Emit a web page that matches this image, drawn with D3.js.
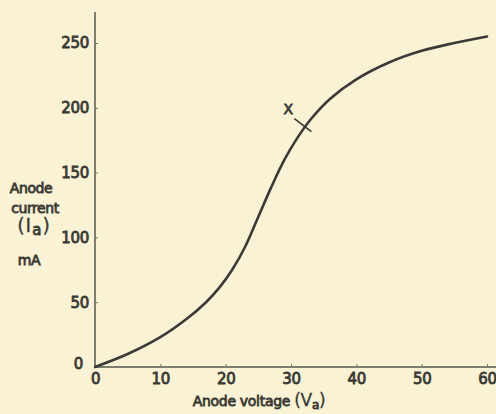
<!DOCTYPE html>
<html><head><meta charset="utf-8">
<script src="https://cdn.jsdelivr.net/npm/d3@7"></script>
<style>
html,body{margin:0;padding:0;background:#f9f2d4;}
svg{display:block;}
text{font-family:"DejaVu Sans",sans-serif;font-weight:400;fill:#3a3a34;stroke:#3a3a34;stroke-width:0.8px;}
</style></head>
<body>
<svg id="c" width="496" height="414"></svg>
<script>
const voltage = [0, 5, 10, 14, 17, 19, 21, 23, 25, 27, 29, 31, 33, 36, 40, 45, 50, 55, 60];
const current = [0, 10, 23, 37, 50, 61, 75, 93, 116, 139, 160, 177, 191, 207, 222, 235, 244, 250, 255];
const xTicks = [0, 10, 20, 30, 40, 50, 60];
const yTicks = [0, 50, 100, 150, 200, 250];
const markerV = 32.2;
const markerLabel = "X";

const svg = d3.select("#c");
const x = d3.scaleLinear().domain([0, 60]).range([95, 487]);
const y = d3.scaleLinear().domain([0, 250]).range([367, 43]);
const ink = "#3a3a34";
const font = "'DejaVu Sans', sans-serif";

// axes lines
svg.append("line").attr("x1", 95).attr("x2", 496).attr("y1", y(0)).attr("y2", y(0))
  .attr("stroke", "#55564e").attr("stroke-width", 1.5);
svg.append("line").attr("x1", 95).attr("x2", 95).attr("y1", 12).attr("y2", y(0))
  .attr("stroke", "#55564e").attr("stroke-width", 1.5);

// x ticks
const xa = d3.axisBottom(x).tickValues(xTicks).tickSizeInner(-3).tickSizeOuter(0).tickPadding(6)
  .tickFormat(d3.format("d"));
const gx = svg.append("g").attr("transform", `translate(0,${y(0)})`).call(xa);
gx.select(".domain").remove();
gx.selectAll("line").attr("stroke", "#77786e");
gx.selectAll("text").attr("font-size", 15).attr("fill", ink)
  .attr("font-family", font).attr("letter-spacing", "-0.3")
  .attr("dy", "0.72em");

// y ticks
const ya = d3.axisLeft(y).tickValues(yTicks).tickSizeInner(-3).tickSizeOuter(0).tickPadding(6)
  .tickFormat(d3.format("d"));
const gy = svg.append("g").attr("transform", "translate(95,0)").call(ya);
gy.select(".domain").remove();
gy.selectAll("line").attr("stroke", "#77786e");
gy.selectAll("text").attr("font-size", 15).attr("fill", ink)
  .attr("font-family", font).attr("letter-spacing", "-0.3");
gy.selectAll(".tick").filter(d => d === 0).select("text").attr("dy", "0.1em").attr("x", -12);

// curve
const pts = voltage.map((v, i) => [v, current[i]]);
const line = d3.line().x(d => x(d[0])).y(d => y(d[1])).curve(d3.curveCatmullRom.alpha(0.5));
svg.append("path").attr("d", line(pts)).attr("fill", "none")
  .attr("stroke", "#3a3a38").attr("stroke-width", 2.6).attr("stroke-linecap", "round");

// marker X
const bis = d3.bisector(d => d[0]).left;
const k = bis(pts, markerV);
const p0 = pts[k - 1], p1 = pts[k];
const t = (markerV - p0[0]) / (p1[0] - p0[0]);
const mI = p0[1] + (p1[1] - p0[1]) * t;
const mx = x(markerV), my = y(mI);
svg.append("line").attr("x1", mx - 11).attr("y1", my - 8).attr("x2", mx + 6).attr("y2", my + 5)
  .attr("stroke", ink).attr("stroke-width", 1.6);
svg.append("text").attr("x", mx - 17).attr("y", my - 13).attr("text-anchor", "middle")
  .attr("font-size", 14).text(markerLabel);

// y axis label
const yl = svg.append("g").attr("font-size", 14).attr("letter-spacing", "-0.4");
yl.append("text").attr("x", 31).attr("y", 193).attr("text-anchor", "middle").text("Anode");
yl.append("text").attr("x", 35).attr("y", 213).attr("text-anchor", "middle").text("current");
const ia = yl.append("text").attr("x", 34).attr("y", 232).attr("text-anchor", "middle")
  .attr("font-size", 19).attr("letter-spacing", "1").style("stroke-width", "0.3px");
ia.append("tspan").text("(I");
ia.append("tspan").attr("font-size", 15).style("stroke-width", "0.8px").attr("dy", 3).text("a");
ia.append("tspan").attr("dy", -3).text(")");
yl.append("text").attr("x", 29).attr("y", 265).attr("text-anchor", "middle").text("mA");

// x axis label
const xl = svg.append("text").attr("x", 259).attr("y", 406).attr("text-anchor", "middle")
  .attr("font-size", 14).attr("letter-spacing", "-0.3");
xl.append("tspan").text("Anode voltage ");
xl.append("tspan").attr("font-size", 17).style("stroke-width", "0.3px").text("(V");
xl.append("tspan").attr("font-size", 12).attr("dy", 3).text("a");
xl.append("tspan").attr("font-size", 17).style("stroke-width", "0.3px").attr("dy", -3).text(")");
</script>
</body></html>
